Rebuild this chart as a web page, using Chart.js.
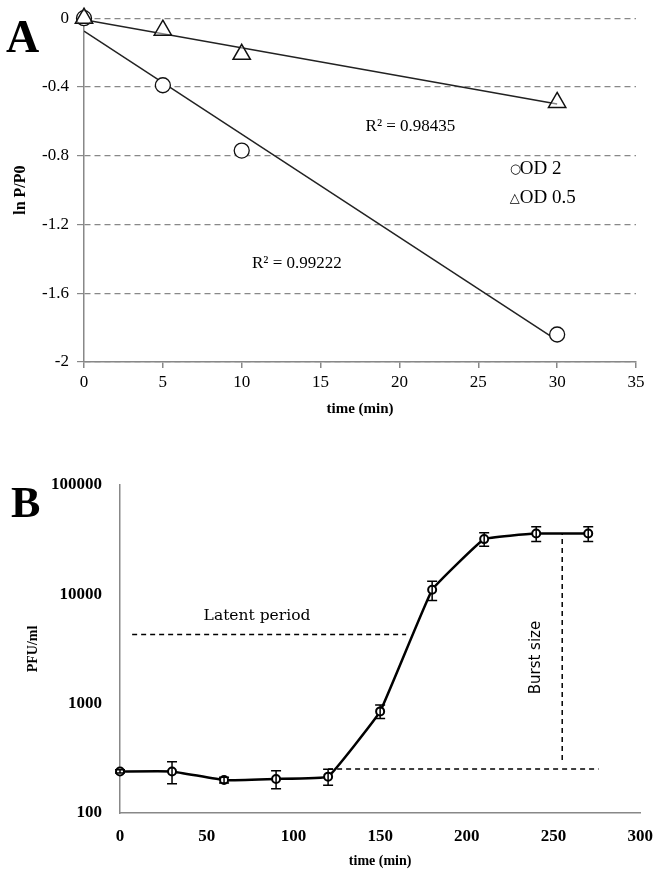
<!DOCTYPE html>
<html>
<head>
<meta charset="utf-8">
<script src="https://cdn.jsdelivr.net/npm/chart.js@4.4.1/dist/chart.umd.min.js"></script>
<style>
  body { margin: 0; background: #fff; width: 666px; height: 882px; position: relative; overflow: hidden; }
  canvas { position: absolute; left: 0; }
  #chartA { top: 0; }
  #chartB { top: 440px; }
  .panel { position: absolute; font-family: 'Liberation Serif', serif; font-weight: bold; line-height: 1; color: #000; }
</style>
</head>
<body>
<canvas id="chartA" width="666" height="430"></canvas>
<canvas id="chartB" width="666" height="442"></canvas>
<div class="panel" style="left:6px; top:14px; font-size:46px;">A</div>
<div class="panel" style="left:11px; top:481px; font-size:44px;">B</div>
<script>
// panel A: inactivation, ln P/P0 vs time
const odTimes = [0, 5, 10, 30];
const od2Values = [0, -0.39, -0.77, -1.84];
const od05Values = [0, -0.07, -0.21, -0.49];
const lnTicks = [0, -0.4, -0.8, -1.2, -1.6, -2];
const r2Od2 = 'R² = 0.99222';
const r2Od05 = 'R² = 0.98435';

// panel B: one-step growth curve
const burstTimes = [0, 30, 60, 90, 120, 150, 180, 210, 240, 270];
const pfuValues = [240, 240, 200, 205, 215, 850, 11000, 32000, 36000, 36000];
const pfuErrors = [8, 55, 12, 38, 36, 120, 2200, 4500, 5500, 5500];
const pfuTicks = [100, 1000, 10000, 100000];
const latentLine = [[7, 4300], [165, 4300]];
const baseLine = [[120, 253], [276, 253]];
const burstLine = [[255, 306], [255, 36000]];

const serif = '"Liberation Serif", "Times New Roman", serif';

function linearFit(xs, ys) {
    const n = xs.length;
    const mx = xs.reduce((a, b) => a + b, 0) / n;
    const my = ys.reduce((a, b) => a + b, 0) / n;
    let sxy = 0, sxx = 0;
    xs.forEach((x, i) => { sxy += (x - mx) * (ys[i] - my); sxx += (x - mx) * (x - mx); });
    const m = sxy / sxx;
    const b = my - m * mx;
    const x0 = Math.min(...xs), x1 = Math.max(...xs);
    return [{x: x0, y: b + m * x0}, {x: x1, y: b + m * x1}];
}

const toPoints = (xs, ys) => xs.map((x, i) => ({x: x, y: ys[i]}));
const toXY = pairs => pairs.map(p => ({x: p[0], y: p[1]}));

const labelsA = {
    id: 'labelsA',
    afterDraw(chart) {
        const {ctx, scales: {x, y}} = chart;
        ctx.save();
        ctx.fillStyle = '#000';
        ctx.textBaseline = 'middle';
        ctx.textAlign = 'center';
        ctx.font = '17px ' + serif;
        ctx.fillText(r2Od05, x.getPixelForValue(20.7), y.getPixelForValue(-0.633));
        ctx.fillText(r2Od2, x.getPixelForValue(13.5), y.getPixelForValue(-1.43));
        // legend
        ctx.textAlign = 'left';
        const lx = x.getPixelForValue(27.0);
        const ly1 = y.getPixelForValue(-0.88);
        const ly2 = y.getPixelForValue(-1.047);
        ctx.font = '13px "DejaVu Sans"';
        ctx.fillText('○', lx, ly1);
        ctx.fillText('△', lx, ly2);
        ctx.font = '19px ' + serif;
        ctx.fillText('OD 2', lx + 10, ly1);
        ctx.fillText('OD 0.5', lx + 10, ly2);
        ctx.restore();
    }
};

const ctxA = document.getElementById('chartA').getContext('2d');
new Chart(ctxA, {
    type: 'scatter',
    data: {
        datasets: [{
            label: 'OD 2',
            data: toPoints(odTimes, od2Values),
            pointStyle: 'circle',
            pointRadius: 7.5,
            pointBackgroundColor: '#fff',
            pointBorderColor: '#111',
            pointBorderWidth: 1.3,
            clip: false,
            order: 1
        }, {
            label: 'OD 0.5',
            data: toPoints(odTimes, od05Values),
            pointStyle: 'triangle',
            pointRadius: 10,
            pointBackgroundColor: 'rgba(255,255,255,0.45)',
            pointBorderColor: '#111',
            pointBorderWidth: 1.5,
            clip: false,
            order: 0
        }, {
            type: 'line',
            label: 'fit OD 2',
            data: linearFit(odTimes, od2Values),
            borderColor: '#222',
            borderWidth: 1.5,
            pointRadius: 0,
            order: 2
        }, {
            type: 'line',
            label: 'fit OD 0.5',
            data: linearFit(odTimes, od05Values),
            borderColor: '#222',
            borderWidth: 1.5,
            pointRadius: 0,
            order: 2
        }]
    },
    options: {
        responsive: false,
        animation: false,
        layout: { padding: { top: 14, right: 30, left: 0, bottom: 0 } },
        plugins: { legend: { display: false }, tooltip: { enabled: false } },
        scales: {
            x: {
                type: 'linear', min: 0, max: 35,
                ticks: { stepSize: 5, color: '#000', padding: 4, font: { family: serif, size: 17 } },
                grid: { drawOnChartArea: false, color: '#888', tickLength: 6, lineWidth: 1.5 },
                border: { color: '#888', width: 1.5 },
                title: { display: true, text: 'time (min)', color: '#000', padding: { top: 0, bottom: 12 }, font: { family: serif, size: 15, weight: 'bold' } },
                afterFit: s => { s.height = 68; }
            },
            y: {
                min: -2, max: 0,
                afterBuildTicks: s => { s.ticks = lnTicks.map(v => ({value: v})); },
                ticks: { color: '#000', padding: 8, font: { family: serif, size: 17 }, callback: v => String(v) },
                grid: { color: '#888', tickBorderDash: [], tickLength: 7, lineWidth: 1.2 },
                border: { color: '#888', width: 1.5, dash: [6, 4] },
                title: { display: true, text: 'ln P/P0', color: '#000', padding: { top: 11, bottom: 0 }, font: { family: serif, size: 16, weight: 'bold' } },
                afterFit: s => { s.width = 84; }
            }
        }
    },
    plugins: [labelsA]
});

const extrasB = {
    id: 'extrasB',
    afterDatasetsDraw(chart) {
        const {ctx, scales: {x, y}} = chart;
        ctx.save();
        ctx.strokeStyle = '#000';
        ctx.lineWidth = 1.5;
        burstTimes.forEach((t, i) => {
            const px = x.getPixelForValue(t);
            const top = y.getPixelForValue(pfuValues[i] + pfuErrors[i]);
            const bot = y.getPixelForValue(pfuValues[i] - pfuErrors[i]);
            ctx.beginPath();
            ctx.moveTo(px, top); ctx.lineTo(px, bot);
            ctx.moveTo(px - 5, top); ctx.lineTo(px + 5, top);
            ctx.moveTo(px - 5, bot); ctx.lineTo(px + 5, bot);
            ctx.stroke();
        });
        ctx.fillStyle = '#000';
        ctx.textAlign = 'center';
        ctx.textBaseline = 'middle';
        ctx.font = '15.5px "DejaVu Serif"';
        ctx.fillText('Latent period', x.getPixelForValue(79), y.getPixelForValue(6280));
        ctx.translate(x.getPixelForValue(240), y.getPixelForValue(2640));
        ctx.rotate(-Math.PI / 2);
        ctx.font = '15px "DejaVu Sans"';
        ctx.fillText('Burst size', 0, 0);
        ctx.restore();
    }
};

const dashed = pts => ({
    type: 'line',
    data: toXY(pts),
    borderColor: '#000',
    borderWidth: 1.5,
    borderDash: [5, 4],
    pointRadius: 0,
    order: 2
});

const ctxB = document.getElementById('chartB').getContext('2d');
new Chart(ctxB, {
    type: 'line',
    data: {
        datasets: [{
            label: 'PFU/ml',
            data: toPoints(burstTimes, pfuValues),
            borderColor: '#000',
            borderWidth: 2.5,
            tension: 0.08,
            pointRadius: 4,
            pointBackgroundColor: '#fff',
            pointBorderColor: '#000',
            pointBorderWidth: 2,
            clip: false,
            order: 0
        }, dashed(latentLine), dashed(baseLine), dashed(burstLine)]
    },
    options: {
        responsive: false,
        animation: false,
        layout: { padding: { top: 45, right: 21, left: 0, bottom: 0 } },
        plugins: { legend: { display: false }, tooltip: { enabled: false } },
        scales: {
            x: {
                type: 'linear', min: 0, max: 300,
                ticks: { stepSize: 50, color: '#000', padding: 13, font: { family: serif, size: 17, weight: 'bold' } },
                grid: { display: false, drawTicks: false },
                border: { color: '#888', width: 1.5 },
                title: { display: true, text: 'time (min)', color: '#000', padding: { top: 0, bottom: 12 }, font: { family: serif, size: 14, weight: 'bold' } },
                afterFit: s => { s.height = 69; }
            },
            y: {
                type: 'logarithmic', min: 100, max: 100000,
                afterBuildTicks: s => { s.ticks = pfuTicks.map(v => ({value: v})); },
                ticks: { color: '#000', padding: 18, font: { family: serif, size: 17, weight: 'bold' }, callback: v => String(v) },
                grid: { display: false, drawTicks: false },
                border: { color: '#888', width: 1.5 },
                title: { display: true, text: 'PFU/ml', color: '#000', padding: { top: 25, bottom: 0 }, font: { family: serif, size: 14, weight: 'bold' } },
                afterFit: s => { s.width = 120; }
            }
        }
    },
    plugins: [extrasB]
});
</script>
</body>
</html>
